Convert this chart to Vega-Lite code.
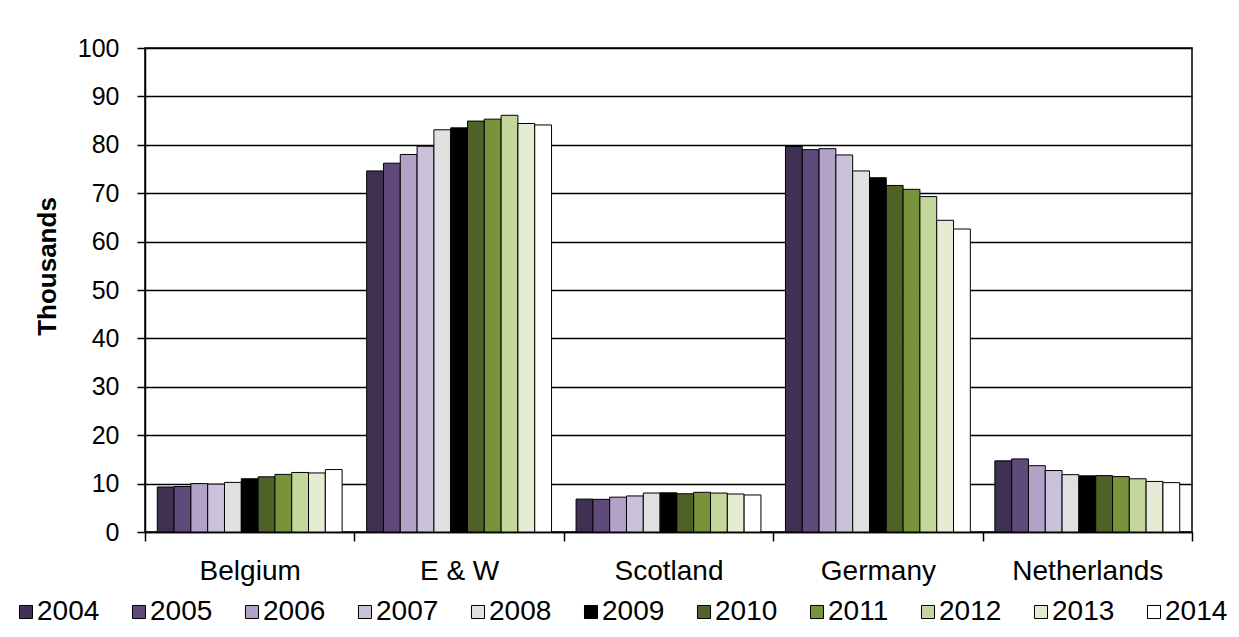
{
  "$schema": "https://vega.github.io/schema/vega-lite/v6.json",
  "width": 1047,
  "height": 484,
  "autosize": "none",
  "padding": {"left": 145, "top": 48, "right": 47, "bottom": 105},
  "background": "white",
  "data": {
    "values": [
      {"country": "Belgium", "year": "2004", "value": 9.3},
      {"country": "Belgium", "year": "2005", "value": 9.4},
      {"country": "Belgium", "year": "2006", "value": 10.0},
      {"country": "Belgium", "year": "2007", "value": 9.9},
      {"country": "Belgium", "year": "2008", "value": 10.25},
      {"country": "Belgium", "year": "2009", "value": 11.0},
      {"country": "Belgium", "year": "2010", "value": 11.4},
      {"country": "Belgium", "year": "2011", "value": 11.9},
      {"country": "Belgium", "year": "2012", "value": 12.3},
      {"country": "Belgium", "year": "2013", "value": 12.2},
      {"country": "Belgium", "year": "2014", "value": 12.9},
      {"country": "E & W", "year": "2004", "value": 74.6},
      {"country": "E & W", "year": "2005", "value": 76.2},
      {"country": "E & W", "year": "2006", "value": 78.0},
      {"country": "E & W", "year": "2007", "value": 79.7},
      {"country": "E & W", "year": "2008", "value": 83.1},
      {"country": "E & W", "year": "2009", "value": 83.5},
      {"country": "E & W", "year": "2010", "value": 84.9},
      {"country": "E & W", "year": "2011", "value": 85.3},
      {"country": "E & W", "year": "2012", "value": 86.1},
      {"country": "E & W", "year": "2013", "value": 84.4},
      {"country": "E & W", "year": "2014", "value": 84.1},
      {"country": "Scotland", "year": "2004", "value": 6.8},
      {"country": "Scotland", "year": "2005", "value": 6.75},
      {"country": "Scotland", "year": "2006", "value": 7.2},
      {"country": "Scotland", "year": "2007", "value": 7.45},
      {"country": "Scotland", "year": "2008", "value": 8.05},
      {"country": "Scotland", "year": "2009", "value": 8.1},
      {"country": "Scotland", "year": "2010", "value": 7.9},
      {"country": "Scotland", "year": "2011", "value": 8.2},
      {"country": "Scotland", "year": "2012", "value": 8.05},
      {"country": "Scotland", "year": "2013", "value": 7.85},
      {"country": "Scotland", "year": "2014", "value": 7.65},
      {"country": "Germany", "year": "2004", "value": 79.65},
      {"country": "Germany", "year": "2005", "value": 79.0},
      {"country": "Germany", "year": "2006", "value": 79.2},
      {"country": "Germany", "year": "2007", "value": 77.9},
      {"country": "Germany", "year": "2008", "value": 74.6},
      {"country": "Germany", "year": "2009", "value": 73.2},
      {"country": "Germany", "year": "2010", "value": 71.6},
      {"country": "Germany", "year": "2011", "value": 70.8},
      {"country": "Germany", "year": "2012", "value": 69.3},
      {"country": "Germany", "year": "2013", "value": 64.4},
      {"country": "Germany", "year": "2014", "value": 62.6},
      {"country": "Netherlands", "year": "2004", "value": 14.7},
      {"country": "Netherlands", "year": "2005", "value": 15.1},
      {"country": "Netherlands", "year": "2006", "value": 13.7},
      {"country": "Netherlands", "year": "2007", "value": 12.7},
      {"country": "Netherlands", "year": "2008", "value": 11.85},
      {"country": "Netherlands", "year": "2009", "value": 11.6},
      {"country": "Netherlands", "year": "2010", "value": 11.65},
      {"country": "Netherlands", "year": "2011", "value": 11.45},
      {"country": "Netherlands", "year": "2012", "value": 11.0},
      {"country": "Netherlands", "year": "2013", "value": 10.45},
      {"country": "Netherlands", "year": "2014", "value": 10.2}
    ]
  },
  "mark": {"type": "bar", "stroke": "black", "strokeWidth": 1},
  "encoding": {
    "x": {
      "field": "country",
      "type": "nominal",
      "sort": ["Belgium", "E & W", "Scotland", "Germany", "Netherlands"],
      "scale": {"paddingInner": 0, "paddingOuter": 0},
      "axis": {
        "title": null,
        "labelAngle": 0,
        "labelFontSize": 28,
        "labelColor": "black",
        "labelPadding": 16,
        "tickBand": "extent",
        "ticks": true,
        "tickSize": 9,
        "tickColor": "black",
        "tickWidth": 1.5,
        "domainColor": "black",
        "domainWidth": 1.5,
        "grid": false
      }
    },
    "xOffset": {
      "field": "year",
      "type": "nominal",
      "scale": {"paddingInner": 0, "paddingOuter": 0.73}
    },
    "y": {
      "field": "value",
      "type": "quantitative",
      "scale": {"domain": [0, 100], "nice": false},
      "axis": {
        "values": [0, 10, 20, 30, 40, 50, 60, 70, 80, 90, 100],
        "grid": true,
        "gridColor": "black",
        "gridWidth": 1.5,
        "gridOpacity": 1,
        "domainColor": "black",
        "domainWidth": 1.5,
        "tickColor": "black",
        "tickWidth": 1.5,
        "tickSize": 8,
        "labelFontSize": 25,
        "labelColor": "black",
        "labelPadding": 18,
        "title": "Thousands",
        "titleFontSize": 26,
        "titleFontWeight": "bold",
        "titleColor": "black",
        "titleX": -98,
        "titleY": 218,
        "titleAngle": -90,
        "titleAlign": "center",
        "titleBaseline": "middle"
      }
    },
    "color": {
      "field": "year",
      "type": "nominal",
      "scale": {
        "domain": ["2004", "2005", "2006", "2007", "2008", "2009", "2010", "2011", "2012", "2013", "2014"],
        "range": ["#403152", "#604A7B", "#B3A2C7", "#CCC1DA", "#E0E0E0", "#000000", "#4F6228", "#77933C", "#C3D69B", "#E4ECD4", "#FFFFFF"]
      },
      "legend": {
        "title": null,
        "orient": "none",
        "legendX": -133,
        "legendY": 550,
        "padding": 0,
        "direction": "horizontal",
        "columns": 11,
        "symbolType": "square",
        "symbolSize": 170,
        "symbolStrokeColor": "black",
        "symbolStrokeWidth": 1,
        "labelFontSize": 28,
        "labelColor": "black",
        "labelOffset": -3,
        "columnPadding": 25
      }
    }
  },
  "config": {
    "font": "Liberation Sans",
    "view": {"stroke": "black", "strokeWidth": 1.5}
  }
}
